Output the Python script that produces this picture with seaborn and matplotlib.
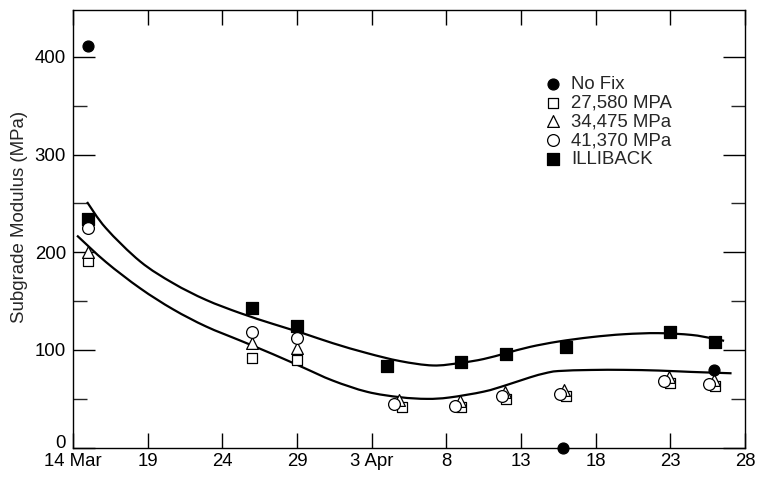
import matplotlib
matplotlib.use("Agg")
import matplotlib.pyplot as plt
import matplotlib.transforms as mtransforms
from matplotlib.path import Path
from matplotlib.patches import PathPatch
import seaborn as sns
from matplotlib.ticker import MultipleLocator, FixedLocator

# Measurement days, counted from 14 March
nofix_day = [1, 32.8, 42.9]
nofix_mpa = [411, 0, 79]

mpa27580_day = [1, 12, 15, 22, 26, 29, 33, 40, 43]
mpa27580 = [190.5, 91.4, 89.7, 41, 41.8, 49.4, 53.1, 66.4, 63.4]

mpa34475_day = [1, 12, 15, 21.8, 25.9, 28.9, 32.9, 39.9, 42.9]
mpa34475 = [200.7, 106.8, 101.7, 48.7, 48, 57.2, 59, 72, 69.2]

mpa41370_day = [1, 12, 15, 21.5, 25.6, 28.7, 32.6, 39.6, 42.6]
mpa41370 = [224.7, 118, 112.6, 44.6, 42.5, 52.8, 54.5, 68.2, 65.1]

illiback_day = [1, 12, 15, 21, 26, 29, 33, 40, 43]
illiback = [233.9, 143.3, 124.9, 83.9, 88, 95.8, 103.3, 118.7, 108.5]

# Trend curves (knots of a smooth curve)
upper_day = [0.94, 2.2, 4.5, 6.7, 8.9, 11.2, 13.4, 15.4, 17.4, 19.7, 21.9, 24.1,
             25.9, 27.5, 29.0, 30.6, 32.5, 34.7, 36.9, 39.2, 41.4, 42.75, 43.6]
upper_mpa = [251.4, 224.7, 190.5, 168.3, 151.2, 137.6, 126.5, 117.0, 106.8, 96.6, 88.5, 84.0,
             86.5, 90.6, 96.6, 103.0, 108.5, 113.0, 116.0, 117.1, 115.3, 111.9, 109.2]

lower_day = [0.27, 2.2, 4.5, 6.7, 8.9, 11.2, 13.4, 15.4, 17.4, 19.7, 21.9, 23.7,
             25.2, 27.5, 29.0, 30.6, 31.6, 32.5, 34.7, 36.9, 39.2, 41.4, 44.1]
lower_mpa = [217, 190, 163, 141.5, 124, 109.5, 95.5, 82, 68.5, 57, 51.5, 49.8,
             51.2, 57.2, 63.8, 71.8, 76, 78.3, 79.4, 79.5, 78.8, 77.4, 76]

xtick_pos = [0, 5, 10, 15, 20, 25, 30, 35, 40, 45]
xtick_labels = ["14 Mar", "19", "24", "29", "3 Apr", "8", "13", "18", "23", "28"]

sns.set_style("ticks")
plt.rcParams["font.family"] = ["Liberation Sans", "DejaVu Sans"]
FS = 13.4


def smooth_path(xs, ys):
    """Catmull-Rom curve through the knots, as cubic Bezier segments."""
    pts = list(zip(xs, ys))
    ext = [pts[0]] + pts + [pts[-1]]
    verts = [pts[0]]
    codes = [Path.MOVETO]
    for i in range(1, len(ext) - 2):
        p0, p1, p2, p3 = ext[i - 1], ext[i], ext[i + 1], ext[i + 2]
        c1 = (p1[0] + (p2[0] - p0[0]) / 6, p1[1] + (p2[1] - p0[1]) / 6)
        c2 = (p2[0] - (p3[0] - p1[0]) / 6, p2[1] - (p3[1] - p1[1]) / 6)
        verts += [c1, c2, p2]
        codes += [Path.CURVE4] * 3
    return Path(verts, codes)


fig = plt.figure(figsize=(7.64, 4.86), dpi=100)
ax = fig.add_axes([73 / 764, 1 - 447.5 / 486, 672 / 764, 437.5 / 486])

for xs, ys in ((upper_day, upper_mpa), (lower_day, lower_mpa)):
    ax.add_patch(PathPatch(smooth_path(xs, ys), fill=False, edgecolor="black",
                           lw=1.6, capstyle="butt", zorder=2))

common = dict(ax=ax, linewidth=0.9, edgecolor="black", clip_on=False, zorder=3)
sns.scatterplot(x=illiback_day, y=illiback, marker="s", s=64, color="black",
                label="ILLIBACK", **common)
sns.scatterplot(x=mpa27580_day, y=mpa27580, marker="s", s=62, color="white",
                label="27,580 MPA", **common)
sns.scatterplot(x=mpa34475_day, y=mpa34475, marker="^", s=72, color="white",
                label="34,475 MPa", **common)
sns.scatterplot(x=mpa41370_day, y=mpa41370, marker="o", s=72, color="white",
                label="41,370 MPa", **common)
sns.scatterplot(x=nofix_day, y=nofix_mpa, marker="o", s=62, color="black",
                label="No Fix", **common)

ax.set_xlim(0, 45)
ax.set_ylim(0, 448)
ax.xaxis.set_major_locator(FixedLocator(xtick_pos))
ax.set_xticklabels(xtick_labels)
ax.yaxis.set_major_locator(MultipleLocator(100))
ax.yaxis.set_minor_locator(MultipleLocator(50))

for sp in ax.spines.values():
    sp.set_linewidth(1.0)
    sp.set_color("black")
ax.tick_params(axis="x", which="major", direction="in", length=11, width=1.0,
               top=True, bottom=True, labelsize=FS, pad=4, colors="black")
ax.tick_params(axis="y", which="major", direction="in", length=16, width=1.0,
               left=True, right=True, labelsize=FS, pad=5, colors="black")
ax.tick_params(axis="y", which="minor", direction="in", length=10, width=1.0,
               left=True, right=True)

# lift the "0" label a little so it clears the first date label
fig.canvas.draw()
for lbl in ax.get_yticklabels():
    if lbl.get_text() == "0":
        lbl.set_transform(lbl.get_transform() +
                          mtransforms.ScaledTranslation(0, 4 / 72, fig.dpi_scale_trans))

ax.set_xlabel("")
ax.set_ylabel("Subgrade Modulus (MPa)", fontsize=FS)
ax.yaxis.set_label_coords(-0.067, 0.526)

handles, labels = ax.get_legend_handles_labels()
order = ["No Fix", "27,580 MPA", "34,475 MPa", "41,370 MPa", "ILLIBACK"]
hmap = dict(zip(labels, handles))
ax.legend([hmap[k] for k in order], order, loc="upper left",
          bbox_to_anchor=(545 / 764, 1 - 75.5 / 486), bbox_transform=fig.transFigure,
          frameon=False, fontsize=FS, borderpad=0, borderaxespad=0,
          handlelength=0.9, handletextpad=0.5, labelspacing=0.1)

fig.savefig("out.png", dpi=100)
